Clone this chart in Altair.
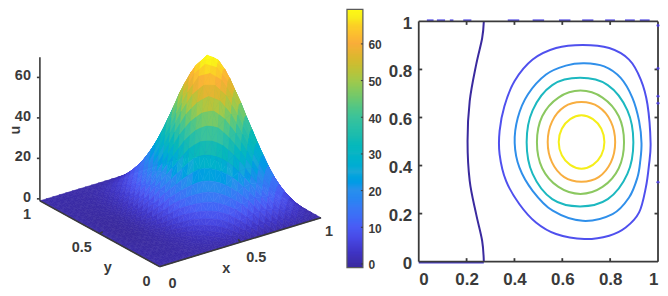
import altair as alt
import pandas as pd

FONT = "Liberation Sans"
INK = "#3a3a3a"

# ---- colour ramp
STOP_U = [-1, 3, 7, 10, 15, 20, 25, 30, 35, 40, 45, 50, 55, 60, 65, 67, 70]
STOP_C = ["#3a2a9e", "#3f34c4", "#484ae6", "#4a5cf5", "#3a78f5", "#2a90ec", "#1aa8d8", "#0db5c4",
          "#1dbcae", "#3cc39a", "#6cc870", "#a3c94a", "#d2bb30", "#f9ad3a", "#fbd126", "#f8ec1c", "#ffff12"]
COLOR = alt.Scale(domain=STOP_U, range=STOP_C, clamp=True)

# ---- surface u(x, y), read on a 0.04 grid (rows y = 0 ... 0.48, mirrored about y = 0.5)
GRID_X = [i / 25 for i in range(26)]
U_ROWS = [
 [0]*26,
 [0,0,-.1,-.1,0,0,.1,.2,.4,.7,1,1.4,1.9,2.3,2.8,3.2,3.4,3.5,3.4,3.1,2.7,2.2,1.7,1.1,.6,0],
 [0,-.1,-.1,-.1,-.1,0,.1,.4,.9,1.6,2.3,3.2,4.3,5.3,6.3,7.2,7.8,8,7.8,7.1,6.2,5,3.8,2.5,1.3,0],
 [0,-.1,-.2,-.2,-.2,0,.2,.7,1.5,2.6,3.8,5.3,7.1,8.8,10.5,12,12.9,13.3,12.9,11.9,10.3,8.4,6.4,4.2,2.2,0],
 [0,-.2,-.3,-.3,-.2,-.1,.3,.9,2.1,3.7,5.3,7.5,10,12.4,14.7,16.8,18.2,18.7,18.2,16.7,14.4,11.7,8.9,5.9,3.1,0],
 [0,-.2,-.4,-.4,-.3,-.1,.4,1.2,2.8,4.9,7.1,10,13.4,16.6,19.6,22.5,24.3,25,24.3,22.3,19.3,15.7,12,7.9,4.1,0],
 [0,-.3,-.5,-.5,-.4,-.1,.5,1.6,3.5,6.2,9.1,12.7,17,21.1,25,28.6,30.9,31.8,30.9,28.4,24.5,20,15.2,10,5.2,0],
 [0,-.3,-.6,-.6,-.4,-.1,.7,2,4.4,7.7,11.2,15.7,21,26.1,30.9,35.3,38.1,39.3,38.1,35.1,30.3,24.7,18.8,12.3,6.5,0],
 [0,-.4,-.7,-.7,-.5,-.1,.8,2.4,5.3,9.3,13.5,18.9,25.4,31.4,37.2,42.6,46,47.3,46,42.3,36.5,29.7,22.6,14.9,7.8,0],
 [0,-.5,-.8,-.8,-.6,-.2,.9,2.8,6.1,10.8,15.7,22,29.5,36.5,43.2,49.5,53.4,55,53.4,49.1,42.4,34.6,26.3,17.3,9,0],
 [0,-.5,-.9,-.9,-.7,-.2,1.1,3.1,6.8,12,17.5,24.5,32.9,40.7,48.2,55.2,59.6,61.3,59.6,54.8,47.3,38.5,29.3,19.3,10.1,0],
 [0,-.6,-.9,-.9,-.8,-.2,1.1,3.3,7.4,12.9,18.9,26.4,35.4,43.9,51.9,59.4,64.1,66,64.1,58.9,50.9,41.5,31.6,20.7,10.8,0],
 [0,-.6,-1,-1,-.8,-.2,1.2,3.5,7.7,13.6,19.8,27.7,37.1,46,54.5,62.4,67.3,69.3,67.3,61.9,53.5,43.6,33.2,21.8,11.4,0],
]
U_ALL = U_ROWS + U_ROWS[::-1]
GRID_Y = [j / 25 for j in range(13)] + [1 - j / 25 for j in range(12, -1, -1)]

# ---- contours: level -> closed ring of (x, y)
LEVEL_COLOR = {0: "#3a2a9f", 10: "#4f50ee", 20: "#2f8fea", 30: "#1cb8c0", 40: "#8bc860", 50: "#f8ae40", 60: "#f5ee1a"}
RINGS = {
 60: [(.776,.498),(.763,.553),(.728,.593),(.680,.609),(.633,.593),(.598,.553),(.585,.498),(.598,.443),(.633,.403),(.680,.387),(.728,.403),(.763,.443)],
 50: [(.821,.498),(.803,.583),(.752,.644),(.68,.664),(.608,.644),(.557,.583),(.539,.498),(.557,.413),(.608,.352),(.68,.333),(.752,.352),(.803,.413)],
 40: [(.858,.497),(.836,.605),(.768,.683),(.676,.712),(.584,.683),(.516,.605),(.494,.497),(.516,.389),(.584,.311),(.676,.282),(.768,.311),(.836,.389)],
 30: [(.897,.4975),(.872,.63),(.79,.735),(.674,.765),(.558,.735),(.476,.63),(.451,.4975),(.476,.365),(.558,.26),(.674,.23),(.79,.26),(.872,.365)],
 20: [(.931,.494),(.921,.585),(.893,.682),(.844,.765),(.775,.813),(.692,.826),(.615,.816),(.532,.779),(.456,.696),(.414,.599),(.401,.494),(.421,.391),(.476,.295),(.560,.212),(.685,.170),(.810,.198),(.879,.267),(.914,.350),(.926,.42)],
 10: [(.969,.494),(.956,.654),(.928,.758),(.879,.841),(.796,.889),(.685,.902),(.574,.889),(.476,.841),(.400,.751),(.358,.647),(.338,.544),(.338,.447),(.365,.336),(.421,.239),(.490,.163),(.574,.115),(.692,.094),(.796,.108),(.865,.142),(.921,.205),(.949,.308),(.962,.40)],
}
ZERO_X = [.272, .265, .24, .213, .204, .213, .24, .265, .272]
ZERO_Y = [0, .087, .198, .336, .502, .668, .82, .93, 1]
TOP_DASH = [(.034,.062),(.076,.11),(.13,.145),(.186,.22),(.372,.42),(.476,.524),(.586,.634),(.683,.73),(.779,.82),(.862,.903),(.924,.965)]
RIGHT_SPECK = [.983, .804, .688, .659, .331]
TICKS = [.2, .4, .6, .8]

# ---- 3D view: picture position of a data point
def cam(x, y, u=0.0):
    return 160 + 162 * x - 120 * y, 266 - 49 * x - 66 * y - 2.08 * u

def u_tick(v):
    x, y = cam(0, 1)
    return x, y - 2 - 2.03 * v

features = []
for j in range(len(GRID_Y) - 1):
    for i in range(len(GRID_X) - 1):
        corners = [(i, j), (i + 1, j), (i + 1, j + 1), (i, j + 1)]
        pts = [list(cam(GRID_X[a], GRID_Y[b], U_ALL[b][a])) for a, b in corners]
        vals = [U_ALL[b][a] for a, b in corners]
        mid = [sum(p[0] for p in pts) / 4, sum(p[1] for p in pts) / 4]
        depth0 = 49 * GRID_X[i] + 66 * GRID_Y[j]
        for k in (2, 3, 1, 0):  # painted far to near inside the cell
            a, b = pts[k], pts[(k + 1) % 4]
            shade = (vals[k] + vals[(k + 1) % 4]) / 2
            features.append(((depth0, -[2, 3, 1, 0].index(k)),
                             {"type": "Feature", "properties": {"u": round(shade, 2)},
                              "geometry": {"type": "Polygon", "coordinates": [[a, b, mid, a]]}}))
features = [f for _, f in sorted(features, key=lambda t: (-t[0][0], -t[0][1]))]

W1, H = 340, 280
sx = alt.Scale(domain=[8, 8 + W1], range=[0, W1])
sy = alt.Scale(domain=[8, 8 + H], range=[0, H])

surface = alt.Chart(alt.Data(values=features)).mark_geoshape(strokeWidth=0.6).encode(
    fill=alt.Fill("properties.u:Q", scale=COLOR, legend=None),
    stroke=alt.Stroke("properties.u:Q", scale=COLOR, legend=None),
).project(type="identity", scale=1, translate=[-8, -8])

def seg(p, q):
    return {"x": p[0], "y": p[1], "x2": q[0], "y2": q[1]}

axis_rows = [seg(cam(0, 1), cam(0, 0)), seg(cam(0, 0), cam(1, 0)), seg(cam(0, 1), u_tick(70))]
for v in [.5]:
    a = cam(v, 0); axis_rows.append(seg(a, (a[0] - 2, a[1] - 3)))
    b = cam(0, v); axis_rows.append(seg(b, (b[0] + 3, b[1] - 2)))
for v in [0, 20, 40, 60]:
    c = u_tick(v); axis_rows.append(seg(c, (c[0] - 3, c[1] + 0)))
axes3d = alt.Chart(pd.DataFrame(axis_rows)).mark_rule(color=INK, strokeWidth=1.6).encode(
    x=alt.X("x:Q", scale=sx, axis=None), y=alt.Y("y:Q", scale=sy, axis=None),
    x2="x2:Q", y2="y2:Q")

L3 = []
for v, t, dx, dy in [(0, "0", 13, 17), (.5, "0.5", 16, 15.5), (1, "1", 8, 14)]:
    p = cam(v, 0); L3.append({"x": p[0] + dx, "y": p[1] + dy, "t": t})
for v, t, dx, dy in [(0, "0", -13, 15), (.5, "0.5", -18, 14), (1, "1", -13, 14)]:
    p = cam(0, v); L3.append({"x": p[0] + dx, "y": p[1] + dy, "t": t})
for t, px, py in [("x", 227, 268), ("y", 108, 267)]:
    L3.append({"x": px, "y": py, "t": t})
labels3 = alt.Chart(pd.DataFrame(L3)).mark_text(font=FONT, fontWeight="bold", fontSize=14.5, color=INK, baseline="middle").encode(
    x=alt.X("x:Q", scale=sx, axis=None), y=alt.Y("y:Q", scale=sy, axis=None), text="t:N")
Lu = [{"x": 31, "y": u_tick(v)[1] - 1, "t": str(v)} for v in [0, 20, 40, 60]]
labels_u = alt.Chart(pd.DataFrame(Lu)).mark_text(font=FONT, fontWeight="bold", fontSize=14.5, color=INK, baseline="middle", align="right").encode(
    x=alt.X("x:Q", scale=sx, axis=None), y=alt.Y("y:Q", scale=sy, axis=None), text="t:N")
label_name = alt.Chart(pd.DataFrame([{"x": 16, "y": 129, "t": "u"}])).mark_text(font=FONT, fontWeight="bold", fontSize=14.5, color=INK, baseline="middle", angle=270).encode(
    x=alt.X("x:Q", scale=sx, axis=None), y=alt.Y("y:Q", scale=sy, axis=None), text="t:N")

view3d = alt.layer(surface, axes3d, labels3, labels_u, label_name).properties(width=W1, height=H)

# ---- colour bar
BAR_LO, BAR_HI = -1.0, 69.4
BAR_TICKS = [0, 10, 20, 30, 40, 50, 60]
levels = [BAR_LO + k * 0.25 for k in range(int((BAR_HI - BAR_LO) / 0.25) + 1)]
bar_df = pd.DataFrame({"lo": levels, "hi": [min(v + 0.6, BAR_HI) for v in levels]})
bar_y = alt.Scale(domain=[BAR_LO, BAR_HI], nice=False, zero=False)
BAR_VIEW = 72
bar_axis = alt.Axis(orient="right", offset=16 - BAR_VIEW, values=BAR_TICKS, domain=False, ticks=False,
                    grid=False, title=None, labelFont=FONT, labelFontSize=12, labelFontWeight="bold", labelColor=INK,
                    labelPadding=5, labelOffset=1)
bar = alt.Chart(bar_df).mark_rect().encode(
    x=alt.value(0), x2=alt.value(16),
    y=alt.Y("lo:Q", scale=bar_y, axis=bar_axis),
    y2="hi:Q", fill=alt.Fill("lo:Q", scale=COLOR, legend=None))
bar_frame = alt.Chart(pd.DataFrame({"lo": [BAR_LO], "hi": [BAR_HI]})).mark_rect(fillOpacity=0, stroke="#5a5a5a", strokeWidth=1.2).encode(
    x=alt.value(0), x2=alt.value(16), y=alt.Y("lo:Q", scale=bar_y, axis=bar_axis), y2="hi:Q")
bar_ticks = alt.Chart(pd.DataFrame({"v": BAR_TICKS})).mark_rule(color=INK, strokeWidth=1).encode(
    x=alt.value(14), x2=alt.value(16), y=alt.Y("v:Q", scale=bar_y, axis=bar_axis))
view_bar = alt.layer(bar, bar_frame, bar_ticks).properties(width=BAR_VIEW, height=259)

# ---- contour panel
PX = 241.0
x_s = alt.Scale(domain=[0, 1], nice=False, zero=False)
y_s = alt.Scale(domain=[0, 253 / PX], nice=False, zero=False)
ax_x = alt.Axis(values=[0, .2, .4, .6, .8, 1], format="~g", domain=False, ticks=False, grid=False,
                title=None, labelFont=FONT, labelFontSize=17, labelFontWeight="bold", labelColor=INK, labelPadding=10)
ax_y = alt.Axis(values=[0, .2, .4, .6, .8, 1], format="~g", domain=False, ticks=False, grid=False,
                title=None, labelFont=FONT, labelFontSize=17, labelFontWeight="bold", labelColor=INK, labelPadding=7, labelOffset=2)
ring_rows = []
for lev, pts in RINGS.items():
    for i, (a, b) in enumerate(pts):
        ring_rows.append({"level": lev, "i": i, "x": a, "y": b})
rings = alt.Chart(pd.DataFrame(ring_rows)).mark_line(interpolate="cardinal-closed", strokeWidth=2).encode(
    x=alt.X("x:Q", scale=x_s, axis=ax_x),
    y=alt.Y("y:Q", scale=y_s, axis=ax_y),
    color=alt.Color("level:O", scale=alt.Scale(domain=list(LEVEL_COLOR), range=list(LEVEL_COLOR.values())), legend=None),
    order="i:Q", detail="level:O")
zero = alt.Chart(pd.DataFrame({"x": ZERO_X, "y": ZERO_Y})).mark_line(interpolate="cardinal", strokeWidth=2, color=LEVEL_COLOR[0]).encode(
    x=alt.X("x:Q", scale=x_s, axis=ax_x), y=alt.Y("y:Q", scale=y_s, axis=ax_y), order=alt.Order("y:Q"))
dash = alt.Chart(pd.DataFrame([{"a": a, "b": b, "y": 1.003} for a, b in TOP_DASH])).mark_rule(color="#5a52e6", strokeWidth=2.6).encode(
    x=alt.X("a:Q", scale=x_s, axis=ax_x), x2="b:Q", y=alt.Y("y:Q", scale=y_s, axis=ax_y))
base = alt.Chart(pd.DataFrame([{"a": 0, "b": ZERO_X[0], "y": -0.003}])).mark_rule(color="#4a3fd0", strokeWidth=2.4).encode(
    x=alt.X("a:Q", scale=x_s, axis=ax_x), x2="b:Q", y=alt.Y("y:Q", scale=y_s, axis=ax_y))
frame_rows = [(0, 1, 0, 0), (0, 1, 1, 1), (0, 0, 0, 1), (1, 1, 0, 1)]
tl = 3.5 / PX
for v in TICKS:
    frame_rows += [(v, v, 0, tl), (v, v, 1 - tl, 1), (0, tl, v, v), (1 - tl, 1, v, v)]
frame = alt.Chart(pd.DataFrame(frame_rows, columns=["a", "b", "c", "d"])).mark_rule(color=INK, strokeWidth=1.8).encode(
    x=alt.X("a:Q", scale=x_s, axis=ax_x), x2="b:Q", y=alt.Y("c:Q", scale=y_s, axis=ax_y), y2="d:Q")
specks = alt.Chart(pd.DataFrame({"x": [1.0] * len(RIGHT_SPECK), "y": RIGHT_SPECK})).mark_circle(color="#4a3fd0", size=9, opacity=1).encode(
    x=alt.X("x:Q", scale=x_s, axis=ax_x), y=alt.Y("y:Q", scale=y_s, axis=ax_y))
view_c = alt.layer(rings, zero, dash, base, frame, specks).properties(width=240, height=253)

chart = alt.hconcat(view3d, view_bar, view_c, spacing=0, bounds="flush").resolve_scale(
    color="independent", fill="independent", stroke="independent", x="independent", y="independent"
).configure_view(stroke=None).properties(padding=0, background="white")

chart.save("out.html", embed_options={"renderer": "svg", "actions": False})
